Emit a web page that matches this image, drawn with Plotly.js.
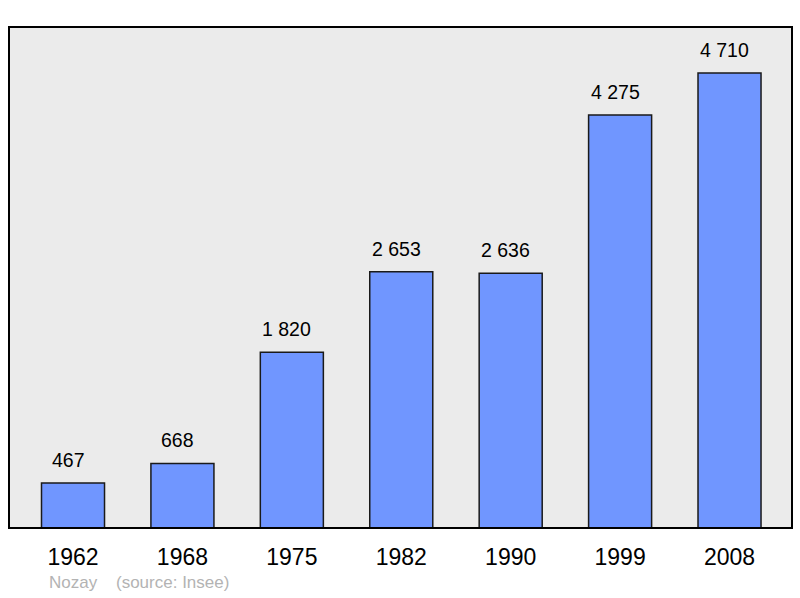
<!DOCTYPE html>
<html><head><meta charset="utf-8">
<script src="https://cdn.plot.ly/plotly-3.0.1.min.js"></script>
<style>html,body{margin:0;padding:0;background:#fff}#chart{width:800px;height:598px}</style>
</head><body><div id="chart"></div>
<script>
const years = ['1962','1968','1975','1982','1990','1999','2008'];
const population = [467, 668, 1820, 2653, 2636, 4275, 4710];
const labels = ['467','668','1 820','2 653','2 636','4 275','4 710'];
const town = 'Nozay';
const source = '(source: Insee)';

const font = 'Liberation Sans, Arial, sans-serif';
const annotations = years.map((y, i) => ({
  x: i, y: population[i], xref: 'x', yref: 'y', text: labels[i],
  showarrow: false, yshift: 23, xshift: -5, font: {family: font, size: 19.5, color: '#000'}
}));
annotations.push({xref:'paper', yref:'paper', x: 38/783, y: -0.108, xanchor:'left', yanchor:'middle',
  text: town, showarrow:false, font:{family:font, size:17, color:'#b3b3b3'}});
annotations.push({xref:'paper', yref:'paper', x: 105/783, y: -0.108, xanchor:'left', yanchor:'middle',
  text: source, showarrow:false, font:{family:font, size:17, color:'#b3b3b3'}});

Plotly.newPlot('chart', [{
  type: 'bar', x: years, y: population, width: 0.576,
  marker: {color: '#7096ff', line: {color: '#1a1a1a', width: 1.5}},
  hoverinfo: 'none'
}], {
  width: 800, height: 598,
  margin: {l: 9, r: 8, t: 27, b: 70},
  paper_bgcolor: '#ffffff', plot_bgcolor: '#ebebeb',
  showlegend: false,
  xaxis: {type: 'category', range: [-0.585, 6.571], showgrid: false, zeroline: false, showline: false,
    ticks: 'outside', ticklen: 8, tickcolor: 'rgba(0,0,0,0)',
    tickfont: {family: font, size: 23, color: '#000'}},
  yaxis: {range: [0, 5186], showgrid: false, zeroline: false, showticklabels: false, showline: false},
  shapes: [{type: 'rect', xref: 'paper', yref: 'paper', x0: 0, x1: 1, y0: 0, y1: 1,
    line: {color: '#000', width: 2}, fillcolor: 'rgba(0,0,0,0)'}],
  annotations: annotations
}, {staticPlot: true});
</script></body></html>
